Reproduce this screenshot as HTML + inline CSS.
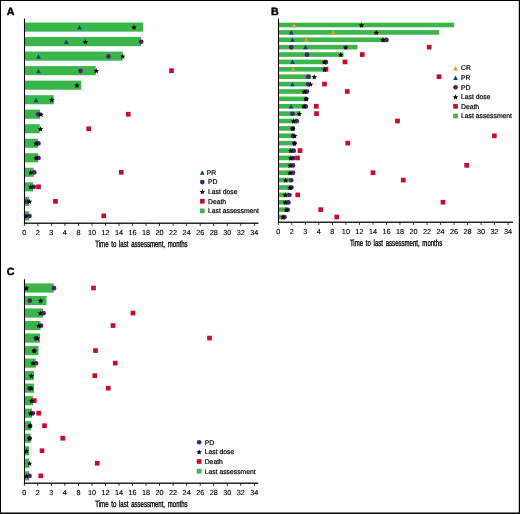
<!DOCTYPE html>
<html><head><meta charset="utf-8"><style>
html,body{margin:0;padding:0;background:#fff;}
svg{display:block;will-change:transform;text-rendering:geometricPrecision;font-family:"Liberation Sans",sans-serif;}
</style></head><body>
<svg width="520" height="514" viewBox="0 0 520 514">
<rect x="0" y="0" width="520" height="514" fill="#fff"/>
<rect x="25.05" y="22.55" width="118.20" height="9.1" fill="#39b54a"/>
<rect x="25.05" y="37.07" width="115.95" height="9.1" fill="#39b54a"/>
<rect x="25.05" y="51.59" width="97.70" height="9.1" fill="#39b54a"/>
<rect x="25.05" y="66.11" width="70.70" height="9.1" fill="#39b54a"/>
<rect x="25.05" y="80.63" width="56.20" height="9.1" fill="#39b54a"/>
<rect x="25.05" y="95.15" width="28.70" height="9.1" fill="#39b54a"/>
<rect x="25.05" y="109.67" width="14.95" height="9.1" fill="#39b54a"/>
<rect x="25.05" y="124.19" width="14.70" height="9.1" fill="#39b54a"/>
<rect x="25.05" y="138.71" width="12.95" height="9.1" fill="#39b54a"/>
<rect x="25.05" y="153.23" width="12.95" height="9.1" fill="#39b54a"/>
<rect x="25.05" y="167.75" width="8.70" height="9.1" fill="#39b54a"/>
<rect x="25.05" y="182.27" width="7.95" height="9.1" fill="#39b54a"/>
<rect x="25.05" y="196.79" width="3.95" height="9.1" fill="#39b54a"/>
<rect x="25.05" y="211.31" width="3.95" height="9.1" fill="#39b54a"/>
<path d="M77.15 29.60L79.50 25.10L81.85 29.60Z" fill="#10407f"/>
<polygon points="134.00,24.60 134.76,26.45 136.76,26.60 135.24,27.90 135.70,29.85 134.00,28.80 132.30,29.85 132.76,27.90 131.24,26.60 133.24,26.45" fill="#000"/>
<path d="M63.90 44.12L66.25 39.62L68.60 44.12Z" fill="#10407f"/>
<circle cx="141.25" cy="41.77" r="2.35" fill="#521b72"/>
<polygon points="85.25,39.12 86.01,40.97 88.01,41.12 86.49,42.42 86.95,44.37 85.25,43.32 83.55,44.37 84.01,42.42 82.49,41.12 84.49,40.97" fill="#000"/>
<path d="M36.15 58.64L38.50 54.14L40.85 58.64Z" fill="#10407f"/>
<circle cx="108.50" cy="56.29" r="2.35" fill="#521b72"/>
<polygon points="122.75,53.64 123.51,55.49 125.51,55.64 123.99,56.94 124.45,58.89 122.75,57.84 121.05,58.89 121.51,56.94 119.99,55.64 121.99,55.49" fill="#000"/>
<path d="M36.15 73.16L38.50 68.66L40.85 73.16Z" fill="#10407f"/>
<circle cx="80.50" cy="70.81" r="2.35" fill="#521b72"/>
<polygon points="96.25,68.16 97.01,70.01 99.01,70.16 97.49,71.46 97.95,73.41 96.25,72.36 94.55,73.41 95.01,71.46 93.49,70.16 95.49,70.01" fill="#000"/>
<rect x="169.15" y="68.31" width="4.7" height="4.7" fill="#c40e2c"/>
<polygon points="77.00,82.68 77.76,84.53 79.76,84.68 78.24,85.98 78.70,87.93 77.00,86.88 75.30,87.93 75.76,85.98 74.24,84.68 76.24,84.53" fill="#000"/>
<path d="M33.65 102.20L36.00 97.70L38.35 102.20Z" fill="#10407f"/>
<polygon points="51.75,97.20 52.51,99.05 54.51,99.20 52.99,100.50 53.45,102.45 51.75,101.40 50.05,102.45 50.51,100.50 48.99,99.20 50.99,99.05" fill="#000"/>
<circle cx="38.25" cy="114.37" r="2.35" fill="#521b72"/>
<polygon points="41.00,111.72 41.76,113.57 43.76,113.72 42.24,115.02 42.70,116.97 41.00,115.92 39.30,116.97 39.76,115.02 38.24,113.72 40.24,113.57" fill="#000"/>
<rect x="125.90" y="111.87" width="4.7" height="4.7" fill="#c40e2c"/>
<polygon points="40.50,126.24 41.26,128.09 43.26,128.24 41.74,129.54 42.20,131.49 40.50,130.44 38.80,131.49 39.26,129.54 37.74,128.24 39.74,128.09" fill="#000"/>
<rect x="86.40" y="126.39" width="4.7" height="4.7" fill="#c40e2c"/>
<circle cx="38.50" cy="143.41" r="2.35" fill="#521b72"/>
<polygon points="36.00,140.76 36.76,142.61 38.76,142.76 37.24,144.06 37.70,146.01 36.00,144.96 34.30,146.01 34.76,144.06 33.24,142.76 35.24,142.61" fill="#000"/>
<circle cx="38.50" cy="157.93" r="2.35" fill="#521b72"/>
<polygon points="36.00,155.28 36.76,157.13 38.76,157.28 37.24,158.58 37.70,160.53 36.00,159.48 34.30,160.53 34.76,158.58 33.24,157.28 35.24,157.13" fill="#000"/>
<circle cx="34.25" cy="172.45" r="2.35" fill="#521b72"/>
<polygon points="30.75,169.80 31.51,171.65 33.51,171.80 31.99,173.10 32.45,175.05 30.75,174.00 29.05,175.05 29.51,173.10 27.99,171.80 29.99,171.65" fill="#000"/>
<rect x="118.90" y="169.95" width="4.7" height="4.7" fill="#c40e2c"/>
<circle cx="33.75" cy="186.97" r="2.35" fill="#521b72"/>
<polygon points="30.75,184.32 31.51,186.17 33.51,186.32 31.99,187.62 32.45,189.57 30.75,188.52 29.05,189.57 29.51,187.62 27.99,186.32 29.99,186.17" fill="#000"/>
<rect x="36.15" y="184.47" width="4.7" height="4.7" fill="#c40e2c"/>
<circle cx="26.75" cy="201.49" r="2.35" fill="#521b72"/>
<polygon points="29.50,198.84 30.26,200.69 32.26,200.84 30.74,202.14 31.20,204.09 29.50,203.04 27.80,204.09 28.26,202.14 26.74,200.84 28.74,200.69" fill="#000"/>
<rect x="53.15" y="198.99" width="4.7" height="4.7" fill="#c40e2c"/>
<circle cx="29.50" cy="216.01" r="2.35" fill="#521b72"/>
<polygon points="26.25,213.36 27.01,215.21 29.01,215.36 27.49,216.66 27.95,218.61 26.25,217.56 24.55,218.61 25.01,216.66 23.49,215.36 25.49,215.21" fill="#000"/>
<rect x="101.40" y="213.51" width="4.7" height="4.7" fill="#c40e2c"/>
<rect x="23.95" y="18.5" width="1.1" height="205.30" fill="#000"/>
<rect x="23.95" y="222.58" width="234.55" height="1.25" fill="#000"/>
<rect x="23.90" y="223.20" width="0.8" height="2.7" fill="#000"/>
<text x="24.30" y="234.75" font-size="7.3" text-anchor="middle" stroke="#000" stroke-width="0.12">0</text>
<rect x="37.43" y="223.20" width="0.8" height="2.7" fill="#000"/>
<text x="37.83" y="234.75" font-size="7.3" text-anchor="middle" stroke="#000" stroke-width="0.12">2</text>
<rect x="50.96" y="223.20" width="0.8" height="2.7" fill="#000"/>
<text x="51.36" y="234.75" font-size="7.3" text-anchor="middle" stroke="#000" stroke-width="0.12">3</text>
<rect x="64.49" y="223.20" width="0.8" height="2.7" fill="#000"/>
<text x="64.89" y="234.75" font-size="7.3" text-anchor="middle" stroke="#000" stroke-width="0.12">4</text>
<rect x="78.02" y="223.20" width="0.8" height="2.7" fill="#000"/>
<text x="78.42" y="234.75" font-size="7.3" text-anchor="middle" stroke="#000" stroke-width="0.12">8</text>
<rect x="91.55" y="223.20" width="0.8" height="2.7" fill="#000"/>
<text x="91.95" y="234.75" font-size="7.3" text-anchor="middle" stroke="#000" stroke-width="0.12">10</text>
<rect x="105.08" y="223.20" width="0.8" height="2.7" fill="#000"/>
<text x="105.48" y="234.75" font-size="7.3" text-anchor="middle" stroke="#000" stroke-width="0.12">12</text>
<rect x="118.61" y="223.20" width="0.8" height="2.7" fill="#000"/>
<text x="119.01" y="234.75" font-size="7.3" text-anchor="middle" stroke="#000" stroke-width="0.12">14</text>
<rect x="132.14" y="223.20" width="0.8" height="2.7" fill="#000"/>
<text x="132.54" y="234.75" font-size="7.3" text-anchor="middle" stroke="#000" stroke-width="0.12">16</text>
<rect x="145.67" y="223.20" width="0.8" height="2.7" fill="#000"/>
<text x="146.07" y="234.75" font-size="7.3" text-anchor="middle" stroke="#000" stroke-width="0.12">18</text>
<rect x="159.20" y="223.20" width="0.8" height="2.7" fill="#000"/>
<text x="159.60" y="234.75" font-size="7.3" text-anchor="middle" stroke="#000" stroke-width="0.12">20</text>
<rect x="172.73" y="223.20" width="0.8" height="2.7" fill="#000"/>
<text x="173.13" y="234.75" font-size="7.3" text-anchor="middle" stroke="#000" stroke-width="0.12">22</text>
<rect x="186.26" y="223.20" width="0.8" height="2.7" fill="#000"/>
<text x="186.66" y="234.75" font-size="7.3" text-anchor="middle" stroke="#000" stroke-width="0.12">24</text>
<rect x="199.79" y="223.20" width="0.8" height="2.7" fill="#000"/>
<text x="200.19" y="234.75" font-size="7.3" text-anchor="middle" stroke="#000" stroke-width="0.12">26</text>
<rect x="213.32" y="223.20" width="0.8" height="2.7" fill="#000"/>
<text x="213.72" y="234.75" font-size="7.3" text-anchor="middle" stroke="#000" stroke-width="0.12">28</text>
<rect x="226.85" y="223.20" width="0.8" height="2.7" fill="#000"/>
<text x="227.25" y="234.75" font-size="7.3" text-anchor="middle" stroke="#000" stroke-width="0.12">30</text>
<rect x="240.38" y="223.20" width="0.8" height="2.7" fill="#000"/>
<text x="240.78" y="234.75" font-size="7.3" text-anchor="middle" stroke="#000" stroke-width="0.12">32</text>
<rect x="253.91" y="223.20" width="0.8" height="2.7" fill="#000"/>
<text x="254.31" y="234.75" font-size="7.3" text-anchor="middle" stroke="#000" stroke-width="0.12">34</text>
<text x="95.3" y="247.2" font-size="9.2" word-spacing="1.6" textLength="92.3" lengthAdjust="spacingAndGlyphs" stroke="#000" stroke-width="0.35">Time to last assessment, months</text>
<path d="M199.95 174.80L202.30 170.30L204.65 174.80Z" fill="#10407f"/>
<text x="206.8" y="174.55" font-size="6.8" stroke="#000" stroke-width="0.2">PR</text>
<circle cx="202.30" cy="182.10" r="2.35" fill="#521b72"/>
<text x="208" y="184.20" font-size="6.8" stroke="#000" stroke-width="0.2">PD</text>
<polygon points="202.30,189.10 203.06,190.95 205.06,191.10 203.54,192.40 204.00,194.35 202.30,193.30 200.60,194.35 201.06,192.40 199.54,191.10 201.54,190.95" fill="#000"/>
<text x="208" y="193.85" font-size="6.8" stroke="#000" stroke-width="0.2">Last dose</text>
<rect x="199.95" y="198.90" width="4.7" height="4.7" fill="#c40e2c"/>
<text x="208" y="203.50" font-size="6.8" stroke="#000" stroke-width="0.2">Death</text>
<rect x="199.95" y="208.55" width="4.7" height="4.7" fill="#39b54a"/>
<text x="208" y="213.15" font-size="6.8" stroke="#000" stroke-width="0.2">Last assessment</text>
<text x="6.8" y="14.8" font-size="10.4" font-weight="bold" stroke="#000" stroke-width="0.45" textLength="7.7" lengthAdjust="spacingAndGlyphs">A</text>
<rect x="279.05" y="22.70" width="175.20" height="4.6" fill="#39b54a"/>
<rect x="279.05" y="30.08" width="160.20" height="4.6" fill="#39b54a"/>
<rect x="279.05" y="37.47" width="106.70" height="4.6" fill="#39b54a"/>
<rect x="279.05" y="44.86" width="78.45" height="4.6" fill="#39b54a"/>
<rect x="279.05" y="52.24" width="64.45" height="4.6" fill="#39b54a"/>
<rect x="279.05" y="59.62" width="47.70" height="4.6" fill="#39b54a"/>
<rect x="279.05" y="67.01" width="47.20" height="4.6" fill="#39b54a"/>
<rect x="279.05" y="74.39" width="32.20" height="4.6" fill="#39b54a"/>
<rect x="279.05" y="81.78" width="30.45" height="4.6" fill="#39b54a"/>
<rect x="279.05" y="89.17" width="27.95" height="4.6" fill="#39b54a"/>
<rect x="279.05" y="96.55" width="27.20" height="4.6" fill="#39b54a"/>
<rect x="279.05" y="103.94" width="25.95" height="4.6" fill="#39b54a"/>
<rect x="279.05" y="111.32" width="21.45" height="4.6" fill="#39b54a"/>
<rect x="279.05" y="118.70" width="17.20" height="4.6" fill="#39b54a"/>
<rect x="279.05" y="126.09" width="15.95" height="4.6" fill="#39b54a"/>
<rect x="279.05" y="133.47" width="14.70" height="4.6" fill="#39b54a"/>
<rect x="279.05" y="140.86" width="14.95" height="4.6" fill="#39b54a"/>
<rect x="279.05" y="148.25" width="13.95" height="4.6" fill="#39b54a"/>
<rect x="279.05" y="155.63" width="13.95" height="4.6" fill="#39b54a"/>
<rect x="279.05" y="163.01" width="13.45" height="4.6" fill="#39b54a"/>
<rect x="279.05" y="170.40" width="13.45" height="4.6" fill="#39b54a"/>
<rect x="279.05" y="177.78" width="11.45" height="4.6" fill="#39b54a"/>
<rect x="279.05" y="185.17" width="11.95" height="4.6" fill="#39b54a"/>
<rect x="279.05" y="192.55" width="9.95" height="4.6" fill="#39b54a"/>
<rect x="279.05" y="199.94" width="8.95" height="4.6" fill="#39b54a"/>
<rect x="279.05" y="207.32" width="7.95" height="4.6" fill="#39b54a"/>
<rect x="279.05" y="214.71" width="4.95" height="4.6" fill="#39b54a"/>
<path d="M291.65 27.15L294.00 22.65L296.35 27.15Z" fill="#f7941d"/>
<polygon points="361.50,22.50 362.26,24.35 364.26,24.50 362.74,25.80 363.20,27.75 361.50,26.70 359.80,27.75 360.26,25.80 358.74,24.50 360.74,24.35" fill="#000"/>
<path d="M288.90 34.53L291.25 30.03L293.60 34.53Z" fill="#10407f"/>
<path d="M330.90 34.53L333.25 30.03L335.60 34.53Z" fill="#f7941d"/>
<polygon points="376.25,29.88 377.01,31.73 379.01,31.89 377.49,33.19 377.95,35.13 376.25,34.08 374.55,35.13 375.01,33.19 373.49,31.89 375.49,31.73" fill="#000"/>
<path d="M290.15 41.92L292.50 37.42L294.85 41.92Z" fill="#10407f"/>
<path d="M303.90 41.92L306.25 37.42L308.60 41.92Z" fill="#f7941d"/>
<circle cx="386.50" cy="39.92" r="2.35" fill="#521b72"/>
<polygon points="383.00,37.27 383.76,39.12 385.76,39.27 384.24,40.57 384.70,42.52 383.00,41.47 381.30,42.52 381.76,40.57 380.24,39.27 382.24,39.12" fill="#000"/>
<circle cx="291.25" cy="47.30" r="2.35" fill="#521b72"/>
<path d="M303.15 49.30L305.50 44.80L307.85 49.30Z" fill="#10407f"/>
<polygon points="345.75,44.66 346.51,46.50 348.51,46.66 346.99,47.96 347.45,49.90 345.75,48.85 344.05,49.90 344.51,47.96 342.99,46.66 344.99,46.50" fill="#000"/>
<rect x="426.90" y="44.80" width="4.7" height="4.7" fill="#c40e2c"/>
<circle cx="307.00" cy="54.69" r="2.35" fill="#521b72"/>
<polygon points="340.75,52.04 341.51,53.89 343.51,54.04 341.99,55.34 342.45,57.29 340.75,56.24 339.05,57.29 339.51,55.34 337.99,54.04 339.99,53.89" fill="#000"/>
<rect x="359.90" y="52.19" width="4.7" height="4.7" fill="#c40e2c"/>
<path d="M290.15 64.07L292.50 59.57L294.85 64.07Z" fill="#10407f"/>
<circle cx="326.00" cy="62.07" r="2.35" fill="#521b72"/>
<polygon points="324.25,59.42 325.01,61.27 327.01,61.43 325.49,62.73 325.95,64.67 324.25,63.62 322.55,64.67 323.01,62.73 321.49,61.43 323.49,61.27" fill="#000"/>
<rect x="342.65" y="59.57" width="4.7" height="4.7" fill="#c40e2c"/>
<path d="M290.90 71.46L293.25 66.96L295.60 71.46Z" fill="#f7941d"/>
<rect x="323.65" y="66.96" width="4.7" height="4.7" fill="#c40e2c"/>
<polygon points="324.50,66.81 325.26,68.66 327.26,68.81 325.74,70.11 326.20,72.06 324.50,71.01 322.80,72.06 323.26,70.11 321.74,68.81 323.74,68.66" fill="#000"/>
<circle cx="308.25" cy="76.84" r="2.35" fill="#521b72"/>
<polygon points="314.25,74.19 315.01,76.04 317.01,76.20 315.49,77.50 315.95,79.44 314.25,78.39 312.55,79.44 313.01,77.50 311.49,76.20 313.49,76.04" fill="#000"/>
<rect x="436.65" y="74.34" width="4.7" height="4.7" fill="#c40e2c"/>
<path d="M290.15 86.23L292.50 81.73L294.85 86.23Z" fill="#10407f"/>
<circle cx="308.25" cy="84.23" r="2.35" fill="#521b72"/>
<polygon points="310.50,81.58 311.26,83.43 313.26,83.58 311.74,84.88 312.20,86.83 310.50,85.78 308.80,86.83 309.26,84.88 307.74,83.58 309.74,83.43" fill="#000"/>
<rect x="322.15" y="81.73" width="4.7" height="4.7" fill="#c40e2c"/>
<circle cx="307.00" cy="91.62" r="2.35" fill="#521b72"/>
<polygon points="304.25,88.97 305.01,90.81 307.01,90.97 305.49,92.27 305.95,94.21 304.25,93.17 302.55,94.21 303.01,92.27 301.49,90.97 303.49,90.81" fill="#000"/>
<rect x="344.90" y="89.12" width="4.7" height="4.7" fill="#c40e2c"/>
<circle cx="306.25" cy="99.00" r="2.35" fill="#521b72"/>
<polygon points="306.25,96.35 307.01,98.20 309.01,98.35 307.49,99.65 307.95,101.60 306.25,100.55 304.55,101.60 305.01,99.65 303.49,98.35 305.49,98.20" fill="#000"/>
<path d="M288.65 108.39L291.00 103.89L293.35 108.39Z" fill="#10407f"/>
<circle cx="305.75" cy="106.39" r="2.35" fill="#521b72"/>
<polygon points="304.00,103.73 304.76,105.58 306.76,105.74 305.24,107.04 305.70,108.98 304.00,107.94 302.30,108.98 302.76,107.04 301.24,105.74 303.24,105.58" fill="#000"/>
<rect x="313.90" y="103.89" width="4.7" height="4.7" fill="#c40e2c"/>
<circle cx="292.50" cy="113.77" r="2.35" fill="#521b72"/>
<polygon points="299.25,111.12 300.01,112.97 302.01,113.12 300.49,114.42 300.95,116.37 299.25,115.32 297.55,116.37 298.01,114.42 296.49,113.12 298.49,112.97" fill="#000"/>
<rect x="314.15" y="111.27" width="4.7" height="4.7" fill="#c40e2c"/>
<circle cx="296.75" cy="121.16" r="2.35" fill="#521b72"/>
<polygon points="293.50,118.50 294.26,120.35 296.26,120.51 294.74,121.81 295.20,123.75 293.50,122.70 291.80,123.75 292.26,121.81 290.74,120.51 292.74,120.35" fill="#000"/>
<rect x="395.15" y="118.66" width="4.7" height="4.7" fill="#c40e2c"/>
<circle cx="292.75" cy="128.54" r="2.35" fill="#521b72"/>
<polygon points="292.75,125.89 293.51,127.74 295.51,127.89 293.99,129.19 294.45,131.14 292.75,130.09 291.05,131.14 291.51,129.19 289.99,127.89 291.99,127.74" fill="#000"/>
<circle cx="293.00" cy="135.92" r="2.35" fill="#521b72"/>
<polygon points="294.75,133.27 295.51,135.12 297.51,135.28 295.99,136.58 296.45,138.52 294.75,137.47 293.05,138.52 293.51,136.58 291.99,135.28 293.99,135.12" fill="#000"/>
<rect x="491.95" y="133.42" width="4.7" height="4.7" fill="#c40e2c"/>
<circle cx="294.50" cy="143.31" r="2.35" fill="#521b72"/>
<polygon points="294.50,140.66 295.26,142.51 297.26,142.66 295.74,143.96 296.20,145.91 294.50,144.86 292.80,145.91 293.26,143.96 291.74,142.66 293.74,142.51" fill="#000"/>
<rect x="345.40" y="140.81" width="4.7" height="4.7" fill="#c40e2c"/>
<circle cx="293.75" cy="150.70" r="2.35" fill="#521b72"/>
<polygon points="290.75,148.05 291.51,149.89 293.51,150.05 291.99,151.35 292.45,153.29 290.75,152.25 289.05,153.29 289.51,151.35 287.99,150.05 289.99,149.89" fill="#000"/>
<rect x="297.65" y="148.20" width="4.7" height="4.7" fill="#c40e2c"/>
<circle cx="293.50" cy="158.08" r="2.35" fill="#521b72"/>
<polygon points="290.75,155.43 291.51,157.28 293.51,157.43 291.99,158.73 292.45,160.68 290.75,159.63 289.05,160.68 289.51,158.73 287.99,157.43 289.99,157.28" fill="#000"/>
<rect x="295.15" y="155.58" width="4.7" height="4.7" fill="#c40e2c"/>
<circle cx="293.00" cy="165.47" r="2.35" fill="#521b72"/>
<polygon points="290.00,162.81 290.76,164.66 292.76,164.82 291.24,166.12 291.70,168.06 290.00,167.02 288.30,168.06 288.76,166.12 287.24,164.82 289.24,164.66" fill="#000"/>
<rect x="464.35" y="162.97" width="4.7" height="4.7" fill="#c40e2c"/>
<circle cx="293.00" cy="172.85" r="2.35" fill="#521b72"/>
<polygon points="290.00,170.20 290.76,172.05 292.76,172.20 291.24,173.50 291.70,175.45 290.00,174.40 288.30,175.45 288.76,173.50 287.24,172.20 289.24,172.05" fill="#000"/>
<rect x="370.65" y="170.35" width="4.7" height="4.7" fill="#c40e2c"/>
<circle cx="291.25" cy="180.24" r="2.35" fill="#521b72"/>
<polygon points="285.75,177.59 286.51,179.43 288.51,179.59 286.99,180.89 287.45,182.83 285.75,181.79 284.05,182.83 284.51,180.89 282.99,179.59 284.99,179.43" fill="#000"/>
<rect x="400.90" y="177.74" width="4.7" height="4.7" fill="#c40e2c"/>
<circle cx="291.50" cy="187.62" r="2.35" fill="#521b72"/>
<polygon points="290.00,184.97 290.76,186.82 292.76,186.97 291.24,188.27 291.70,190.22 290.00,189.17 288.30,190.22 288.76,188.27 287.24,186.97 289.24,186.82" fill="#000"/>
<circle cx="289.50" cy="195.00" r="2.35" fill="#521b72"/>
<polygon points="285.25,192.35 286.01,194.20 288.01,194.36 286.49,195.66 286.95,197.60 285.25,196.56 283.55,197.60 284.01,195.66 282.49,194.36 284.49,194.20" fill="#000"/>
<rect x="295.40" y="192.50" width="4.7" height="4.7" fill="#c40e2c"/>
<circle cx="288.50" cy="202.39" r="2.35" fill="#521b72"/>
<polygon points="285.25,199.74 286.01,201.59 288.01,201.74 286.49,203.04 286.95,204.99 285.25,203.94 283.55,204.99 284.01,203.04 282.49,201.74 284.49,201.59" fill="#000"/>
<rect x="440.65" y="199.89" width="4.7" height="4.7" fill="#c40e2c"/>
<circle cx="287.70" cy="209.78" r="2.35" fill="#521b72"/>
<polygon points="286.25,207.12 287.01,208.97 289.01,209.13 287.49,210.43 287.95,212.37 286.25,211.33 284.55,212.37 285.01,210.43 283.49,209.13 285.49,208.97" fill="#000"/>
<rect x="318.40" y="207.28" width="4.7" height="4.7" fill="#c40e2c"/>
<circle cx="284.50" cy="217.16" r="2.35" fill="#521b72"/>
<polygon points="283.00,214.51 283.76,216.36 285.76,216.51 284.24,217.81 284.70,219.76 283.00,218.71 281.30,219.76 281.76,217.81 280.24,216.51 282.24,216.36" fill="#000"/>
<rect x="334.40" y="214.66" width="4.7" height="4.7" fill="#c40e2c"/>
<rect x="277.95" y="18.5" width="1.1" height="204.30" fill="#000"/>
<rect x="277.95" y="221.58" width="235.15" height="1.25" fill="#000"/>
<rect x="277.90" y="222.20" width="0.8" height="2.7" fill="#000"/>
<text x="278.30" y="233.6" font-size="7.3" text-anchor="middle" stroke="#000" stroke-width="0.12">0</text>
<rect x="291.42" y="222.20" width="0.8" height="2.7" fill="#000"/>
<text x="291.82" y="233.6" font-size="7.3" text-anchor="middle" stroke="#000" stroke-width="0.12">2</text>
<rect x="304.94" y="222.20" width="0.8" height="2.7" fill="#000"/>
<text x="305.34" y="233.6" font-size="7.3" text-anchor="middle" stroke="#000" stroke-width="0.12">3</text>
<rect x="318.46" y="222.20" width="0.8" height="2.7" fill="#000"/>
<text x="318.86" y="233.6" font-size="7.3" text-anchor="middle" stroke="#000" stroke-width="0.12">4</text>
<rect x="331.98" y="222.20" width="0.8" height="2.7" fill="#000"/>
<text x="332.38" y="233.6" font-size="7.3" text-anchor="middle" stroke="#000" stroke-width="0.12">8</text>
<rect x="345.50" y="222.20" width="0.8" height="2.7" fill="#000"/>
<text x="345.90" y="233.6" font-size="7.3" text-anchor="middle" stroke="#000" stroke-width="0.12">10</text>
<rect x="359.02" y="222.20" width="0.8" height="2.7" fill="#000"/>
<text x="359.42" y="233.6" font-size="7.3" text-anchor="middle" stroke="#000" stroke-width="0.12">12</text>
<rect x="372.54" y="222.20" width="0.8" height="2.7" fill="#000"/>
<text x="372.94" y="233.6" font-size="7.3" text-anchor="middle" stroke="#000" stroke-width="0.12">14</text>
<rect x="386.06" y="222.20" width="0.8" height="2.7" fill="#000"/>
<text x="386.46" y="233.6" font-size="7.3" text-anchor="middle" stroke="#000" stroke-width="0.12">16</text>
<rect x="399.58" y="222.20" width="0.8" height="2.7" fill="#000"/>
<text x="399.98" y="233.6" font-size="7.3" text-anchor="middle" stroke="#000" stroke-width="0.12">18</text>
<rect x="413.10" y="222.20" width="0.8" height="2.7" fill="#000"/>
<text x="413.50" y="233.6" font-size="7.3" text-anchor="middle" stroke="#000" stroke-width="0.12">20</text>
<rect x="426.62" y="222.20" width="0.8" height="2.7" fill="#000"/>
<text x="427.02" y="233.6" font-size="7.3" text-anchor="middle" stroke="#000" stroke-width="0.12">22</text>
<rect x="440.14" y="222.20" width="0.8" height="2.7" fill="#000"/>
<text x="440.54" y="233.6" font-size="7.3" text-anchor="middle" stroke="#000" stroke-width="0.12">24</text>
<rect x="453.66" y="222.20" width="0.8" height="2.7" fill="#000"/>
<text x="454.06" y="233.6" font-size="7.3" text-anchor="middle" stroke="#000" stroke-width="0.12">26</text>
<rect x="467.18" y="222.20" width="0.8" height="2.7" fill="#000"/>
<text x="467.58" y="233.6" font-size="7.3" text-anchor="middle" stroke="#000" stroke-width="0.12">28</text>
<rect x="480.70" y="222.20" width="0.8" height="2.7" fill="#000"/>
<text x="481.10" y="233.6" font-size="7.3" text-anchor="middle" stroke="#000" stroke-width="0.12">30</text>
<rect x="494.22" y="222.20" width="0.8" height="2.7" fill="#000"/>
<text x="494.62" y="233.6" font-size="7.3" text-anchor="middle" stroke="#000" stroke-width="0.12">32</text>
<rect x="507.74" y="222.20" width="0.8" height="2.7" fill="#000"/>
<text x="508.14" y="233.6" font-size="7.3" text-anchor="middle" stroke="#000" stroke-width="0.12">34</text>
<text x="349.9" y="246.4" font-size="9.2" word-spacing="1.6" textLength="92.3" lengthAdjust="spacingAndGlyphs" stroke="#000" stroke-width="0.35">Time to last assessment, months</text>
<path d="M453.20 70.50L455.55 66.00L457.90 70.50Z" fill="#f7941d"/>
<text x="461" y="70.40" font-size="6.8" stroke="#000" stroke-width="0.2">CR</text>
<path d="M453.20 80.10L455.55 75.60L457.90 80.10Z" fill="#10407f"/>
<text x="461" y="80.00" font-size="6.8" stroke="#000" stroke-width="0.2">PR</text>
<circle cx="455.55" cy="87.35" r="2.35" fill="#521b72"/>
<text x="461" y="89.60" font-size="6.8" stroke="#000" stroke-width="0.2">PD</text>
<polygon points="455.55,94.30 456.31,96.15 458.31,96.30 456.79,97.60 457.25,99.55 455.55,98.50 453.85,99.55 454.31,97.60 452.79,96.30 454.79,96.15" fill="#000"/>
<text x="461" y="99.20" font-size="6.8" stroke="#000" stroke-width="0.2">Last dose</text>
<rect x="453.20" y="104.05" width="4.7" height="4.7" fill="#c40e2c"/>
<text x="461" y="108.80" font-size="6.8" stroke="#000" stroke-width="0.2">Death</text>
<rect x="453.20" y="113.65" width="4.7" height="4.7" fill="#39b54a"/>
<text x="461" y="118.40" font-size="6.8" stroke="#000" stroke-width="0.2">Last assessment</text>
<text x="271" y="14.6" font-size="10.4" font-weight="bold" stroke="#000" stroke-width="0.45" textLength="7.7" lengthAdjust="spacingAndGlyphs">B</text>
<rect x="25.05" y="283.43" width="28.70" height="9.15" fill="#39b54a"/>
<rect x="25.05" y="295.94" width="21.45" height="9.15" fill="#39b54a"/>
<rect x="25.05" y="308.47" width="17.95" height="9.15" fill="#39b54a"/>
<rect x="25.05" y="320.99" width="15.45" height="9.15" fill="#39b54a"/>
<rect x="25.05" y="333.50" width="14.95" height="9.15" fill="#39b54a"/>
<rect x="25.05" y="346.03" width="13.45" height="9.15" fill="#39b54a"/>
<rect x="25.05" y="358.55" width="10.70" height="9.15" fill="#39b54a"/>
<rect x="25.05" y="371.06" width="8.95" height="9.15" fill="#39b54a"/>
<rect x="25.05" y="383.58" width="8.95" height="9.15" fill="#39b54a"/>
<rect x="25.05" y="396.11" width="7.95" height="9.15" fill="#39b54a"/>
<rect x="25.05" y="408.62" width="6.95" height="9.15" fill="#39b54a"/>
<rect x="25.05" y="421.15" width="5.95" height="9.15" fill="#39b54a"/>
<rect x="25.05" y="433.67" width="5.45" height="9.15" fill="#39b54a"/>
<rect x="25.05" y="446.19" width="3.95" height="9.15" fill="#39b54a"/>
<rect x="25.05" y="458.70" width="3.95" height="9.15" fill="#39b54a"/>
<rect x="25.05" y="471.22" width="3.95" height="9.15" fill="#39b54a"/>
<circle cx="54.00" cy="288.15" r="2.35" fill="#521b72"/>
<polygon points="26.50,285.50 27.26,287.35 29.26,287.50 27.74,288.80 28.20,290.75 26.50,289.70 24.80,290.75 25.26,288.80 23.74,287.50 25.74,287.35" fill="#000"/>
<rect x="91.15" y="285.65" width="4.7" height="4.7" fill="#c40e2c"/>
<circle cx="29.75" cy="300.67" r="2.35" fill="#521b72"/>
<polygon points="40.75,298.02 41.51,299.87 43.51,300.02 41.99,301.32 42.45,303.27 40.75,302.22 39.05,303.27 39.51,301.32 37.99,300.02 39.99,299.87" fill="#000"/>
<circle cx="43.50" cy="313.19" r="2.35" fill="#521b72"/>
<polygon points="40.25,310.54 41.01,312.39 43.01,312.54 41.49,313.84 41.95,315.79 40.25,314.74 38.55,315.79 39.01,313.84 37.49,312.54 39.49,312.39" fill="#000"/>
<rect x="130.65" y="310.69" width="4.7" height="4.7" fill="#c40e2c"/>
<circle cx="41.00" cy="325.71" r="2.35" fill="#521b72"/>
<polygon points="38.75,323.06 39.51,324.91 41.51,325.06 39.99,326.36 40.45,328.31 38.75,327.26 37.05,328.31 37.51,326.36 35.99,325.06 37.99,324.91" fill="#000"/>
<rect x="110.65" y="323.21" width="4.7" height="4.7" fill="#c40e2c"/>
<circle cx="35.75" cy="338.23" r="2.35" fill="#521b72"/>
<polygon points="37.25,335.58 38.01,337.43 40.01,337.58 38.49,338.88 38.95,340.83 37.25,339.78 35.55,340.83 36.01,338.88 34.49,337.58 36.49,337.43" fill="#000"/>
<rect x="207.15" y="335.73" width="4.7" height="4.7" fill="#c40e2c"/>
<circle cx="34.25" cy="350.75" r="2.35" fill="#521b72"/>
<polygon points="34.25,348.10 35.01,349.95 37.01,350.10 35.49,351.40 35.95,353.35 34.25,352.30 32.55,353.35 33.01,351.40 31.49,350.10 33.49,349.95" fill="#000"/>
<rect x="93.15" y="348.25" width="4.7" height="4.7" fill="#c40e2c"/>
<circle cx="36.00" cy="363.27" r="2.35" fill="#521b72"/>
<polygon points="33.00,360.62 33.76,362.47 35.76,362.62 34.24,363.92 34.70,365.87 33.00,364.82 31.30,365.87 31.76,363.92 30.24,362.62 32.24,362.47" fill="#000"/>
<rect x="112.90" y="360.77" width="4.7" height="4.7" fill="#c40e2c"/>
<polygon points="31.25,373.14 32.01,374.99 34.01,375.14 32.49,376.44 32.95,378.39 31.25,377.34 29.55,378.39 30.01,376.44 28.49,375.14 30.49,374.99" fill="#000"/>
<rect x="92.40" y="373.29" width="4.7" height="4.7" fill="#c40e2c"/>
<circle cx="29.50" cy="388.31" r="2.35" fill="#521b72"/>
<polygon points="31.25,385.66 32.01,387.51 34.01,387.66 32.49,388.96 32.95,390.91 31.25,389.86 29.55,390.91 30.01,388.96 28.49,387.66 30.49,387.51" fill="#000"/>
<rect x="105.90" y="385.81" width="4.7" height="4.7" fill="#c40e2c"/>
<rect x="31.90" y="398.33" width="4.7" height="4.7" fill="#c40e2c"/>
<polygon points="31.50,398.18 32.26,400.03 34.26,400.18 32.74,401.48 33.20,403.43 31.50,402.38 29.80,403.43 30.26,401.48 28.74,400.18 30.74,400.03" fill="#000"/>
<circle cx="32.75" cy="413.35" r="2.35" fill="#521b72"/>
<polygon points="30.50,410.70 31.26,412.55 33.26,412.70 31.74,414.00 32.20,415.95 30.50,414.90 28.80,415.95 29.26,414.00 27.74,412.70 29.74,412.55" fill="#000"/>
<rect x="36.40" y="410.85" width="4.7" height="4.7" fill="#c40e2c"/>
<circle cx="30.00" cy="425.87" r="2.35" fill="#521b72"/>
<polygon points="30.00,423.22 30.76,425.07 32.76,425.22 31.24,426.52 31.70,428.47 30.00,427.42 28.30,428.47 28.76,426.52 27.24,425.22 29.24,425.07" fill="#000"/>
<rect x="42.15" y="423.37" width="4.7" height="4.7" fill="#c40e2c"/>
<circle cx="29.50" cy="438.39" r="2.35" fill="#521b72"/>
<polygon points="29.50,435.74 30.26,437.59 32.26,437.74 30.74,439.04 31.20,440.99 29.50,439.94 27.80,440.99 28.26,439.04 26.74,437.74 28.74,437.59" fill="#000"/>
<rect x="60.40" y="435.89" width="4.7" height="4.7" fill="#c40e2c"/>
<polygon points="26.50,448.26 27.26,450.11 29.26,450.26 27.74,451.56 28.20,453.51 26.50,452.46 24.80,453.51 25.26,451.56 23.74,450.26 25.74,450.11" fill="#000"/>
<rect x="39.65" y="448.41" width="4.7" height="4.7" fill="#c40e2c"/>
<polygon points="29.50,460.78 30.26,462.63 32.26,462.78 30.74,464.08 31.20,466.03 29.50,464.98 27.80,466.03 28.26,464.08 26.74,462.78 28.74,462.63" fill="#000"/>
<rect x="94.90" y="460.93" width="4.7" height="4.7" fill="#c40e2c"/>
<circle cx="29.50" cy="475.95" r="2.35" fill="#521b72"/>
<polygon points="26.50,473.30 27.26,475.15 29.26,475.30 27.74,476.60 28.20,478.55 26.50,477.50 24.80,478.55 25.26,476.60 23.74,475.30 25.74,475.15" fill="#000"/>
<rect x="38.40" y="473.45" width="4.7" height="4.7" fill="#c40e2c"/>
<rect x="23.95" y="279.25" width="1.1" height="204.55" fill="#000"/>
<rect x="23.95" y="482.58" width="234.25" height="1.25" fill="#000"/>
<rect x="23.90" y="483.20" width="0.8" height="2.7" fill="#000"/>
<text x="24.30" y="494.75" font-size="7.3" text-anchor="middle" stroke="#000" stroke-width="0.12">0</text>
<rect x="37.43" y="483.20" width="0.8" height="2.7" fill="#000"/>
<text x="37.83" y="494.75" font-size="7.3" text-anchor="middle" stroke="#000" stroke-width="0.12">2</text>
<rect x="50.96" y="483.20" width="0.8" height="2.7" fill="#000"/>
<text x="51.36" y="494.75" font-size="7.3" text-anchor="middle" stroke="#000" stroke-width="0.12">3</text>
<rect x="64.49" y="483.20" width="0.8" height="2.7" fill="#000"/>
<text x="64.89" y="494.75" font-size="7.3" text-anchor="middle" stroke="#000" stroke-width="0.12">4</text>
<rect x="78.02" y="483.20" width="0.8" height="2.7" fill="#000"/>
<text x="78.42" y="494.75" font-size="7.3" text-anchor="middle" stroke="#000" stroke-width="0.12">8</text>
<rect x="91.55" y="483.20" width="0.8" height="2.7" fill="#000"/>
<text x="91.95" y="494.75" font-size="7.3" text-anchor="middle" stroke="#000" stroke-width="0.12">10</text>
<rect x="105.08" y="483.20" width="0.8" height="2.7" fill="#000"/>
<text x="105.48" y="494.75" font-size="7.3" text-anchor="middle" stroke="#000" stroke-width="0.12">12</text>
<rect x="118.61" y="483.20" width="0.8" height="2.7" fill="#000"/>
<text x="119.01" y="494.75" font-size="7.3" text-anchor="middle" stroke="#000" stroke-width="0.12">14</text>
<rect x="132.14" y="483.20" width="0.8" height="2.7" fill="#000"/>
<text x="132.54" y="494.75" font-size="7.3" text-anchor="middle" stroke="#000" stroke-width="0.12">16</text>
<rect x="145.67" y="483.20" width="0.8" height="2.7" fill="#000"/>
<text x="146.07" y="494.75" font-size="7.3" text-anchor="middle" stroke="#000" stroke-width="0.12">18</text>
<rect x="159.20" y="483.20" width="0.8" height="2.7" fill="#000"/>
<text x="159.60" y="494.75" font-size="7.3" text-anchor="middle" stroke="#000" stroke-width="0.12">20</text>
<rect x="172.73" y="483.20" width="0.8" height="2.7" fill="#000"/>
<text x="173.13" y="494.75" font-size="7.3" text-anchor="middle" stroke="#000" stroke-width="0.12">22</text>
<rect x="186.26" y="483.20" width="0.8" height="2.7" fill="#000"/>
<text x="186.66" y="494.75" font-size="7.3" text-anchor="middle" stroke="#000" stroke-width="0.12">24</text>
<rect x="199.79" y="483.20" width="0.8" height="2.7" fill="#000"/>
<text x="200.19" y="494.75" font-size="7.3" text-anchor="middle" stroke="#000" stroke-width="0.12">26</text>
<rect x="213.32" y="483.20" width="0.8" height="2.7" fill="#000"/>
<text x="213.72" y="494.75" font-size="7.3" text-anchor="middle" stroke="#000" stroke-width="0.12">28</text>
<rect x="226.85" y="483.20" width="0.8" height="2.7" fill="#000"/>
<text x="227.25" y="494.75" font-size="7.3" text-anchor="middle" stroke="#000" stroke-width="0.12">30</text>
<rect x="240.38" y="483.20" width="0.8" height="2.7" fill="#000"/>
<text x="240.78" y="494.75" font-size="7.3" text-anchor="middle" stroke="#000" stroke-width="0.12">32</text>
<rect x="253.91" y="483.20" width="0.8" height="2.7" fill="#000"/>
<text x="254.31" y="494.75" font-size="7.3" text-anchor="middle" stroke="#000" stroke-width="0.12">34</text>
<text x="95.3" y="507.3" font-size="9.2" word-spacing="1.6" textLength="92.3" lengthAdjust="spacingAndGlyphs" stroke="#000" stroke-width="0.35">Time to last assessment, months</text>
<circle cx="199.15" cy="442.25" r="2.35" fill="#521b72"/>
<text x="204.7" y="444.65" font-size="6.8" stroke="#000" stroke-width="0.2">PD</text>
<polygon points="199.15,449.30 199.91,451.15 201.91,451.30 200.39,452.60 200.85,454.55 199.15,453.50 197.45,454.55 197.91,452.60 196.39,451.30 198.39,451.15" fill="#000"/>
<text x="204.7" y="454.35" font-size="6.8" stroke="#000" stroke-width="0.2">Last dose</text>
<rect x="196.80" y="459.15" width="4.7" height="4.7" fill="#c40e2c"/>
<text x="204.7" y="464.05" font-size="6.8" stroke="#000" stroke-width="0.2">Death</text>
<rect x="196.80" y="468.85" width="4.7" height="4.7" fill="#39b54a"/>
<text x="204.7" y="473.75" font-size="6.8" stroke="#000" stroke-width="0.2">Last assessment</text>
<text x="6.8" y="274.7" font-size="10.4" font-weight="bold" stroke="#000" stroke-width="0.45" textLength="7.7" lengthAdjust="spacingAndGlyphs">C</text>
<rect x="0" y="0" width="520" height="1" fill="#000"/>
<rect x="0" y="0" width="1" height="514" fill="#000"/>
<rect x="518.8" y="0" width="1.2" height="514" fill="#000"/>
<rect x="0" y="512.5" width="520" height="1.5" fill="#000"/>
</svg>
</body></html>
